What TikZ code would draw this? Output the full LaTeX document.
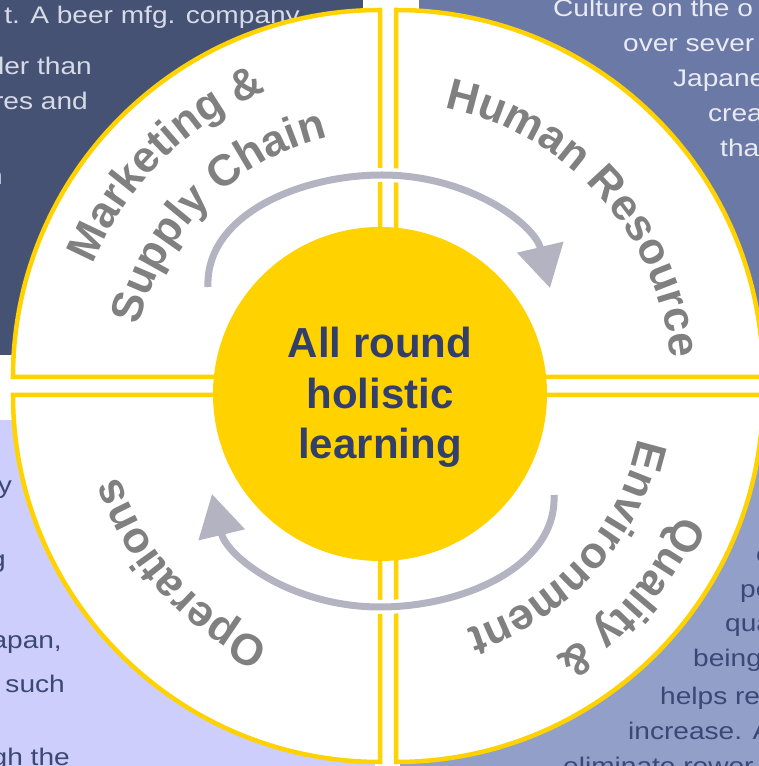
\documentclass[tikz,border=0pt]{standalone}
\usepackage{fontspec}
\setmainfont{Liberation Sans}
\newfontfamily\arialfont{Liberation Sans}
\newfontfamily\bgfont[FakeStretch=1.17]{Liberation Sans}
\usetikzlibrary{arrows.meta,decorations.text,positioning}
\definecolor{myslate}{RGB}{70,82,115}
\definecolor{myslatetext}{RGB}{215,219,232}
\definecolor{mysteel}{RGB}{107,121,166}
\definecolor{mysteeltext}{RGB}{233,234,242}
\definecolor{mylavender}{RGB}{205,206,251}
\definecolor{mygreyblue}{RGB}{146,159,200}
\definecolor{mynavytext}{RGB}{59,71,117}
\definecolor{myyellow}{RGB}{255,210,0}
\definecolor{mylabelgray}{RGB}{128,128,128}
\definecolor{myarrowgray}{RGB}{179,179,194}
\definecolor{myhubtext}{RGB}{51,63,107}
\newcommand{\ringradius}{367}
\newcommand{\labelfont}{\arialfont\bfseries\fontsize{44}{44}\selectfont}
\tikzset{
    bgline/.style={inner sep=0, font=\bgfont\fontsize{24}{35}\selectfont},
    lightline/.style={bgline, text=myslatetext},
    paleline/.style={bgline, text=mysteeltext},
    darkline/.style={bgline, text=mynavytext},
    quadrant/.style={draw=myyellow, line width=4.5pt, fill=white},
    hub/.style={circle, fill=myyellow, inner sep=0, minimum size=334pt},
    hubtext/.style={align=center, text=myhubtext, font=\arialfont\bfseries\fontsize{42}{50.5}\selectfont},
    cyclearrow/.style={draw=myarrowgray, line width=7pt, -{Triangle[width=46pt,length=42pt]},
        preaction={draw=white, line width=14pt, -}},
    quadlabel/.style={decorate, decoration={text along path, text align=center, text color=mylabelgray}}
}

\begin{document}
\begin{tikzpicture}[x=1pt, y=1pt]
    \path[use as bounding box] (0,0) rectangle (759,766);
    \clip (0,0) rectangle (759,766);
    \fill[myslate] (0,411) rectangle (363,766);
    \fill[mysteel] (419,406) rectangle (759,766);
    \fill[mylavender] (0,0) rectangle (375,346);
    \fill[mygreyblue] (400,0) rectangle (759,346);

    \foreach \txt/\xx/\yy [count=\i] in {t. A beer mfg. company/300/742, ler than/92/691, res and/88/656, n/3/581}
        \node[lightline, anchor=base east] (tl\i) at (\xx,\yy) {\txt};
    \foreach \txt/\xx/\yy [count=\i] in {Culture on the o/553/749, over sever/623/714, Japane/673/679, crea/708/644, tha/720/609}
        \node[paleline, anchor=base west] (tr\i) at (\xx,\yy) {\txt};
    \foreach \txt/\xx/\yy [count=\i] in {y/12/272, g/6/198, {apan,}/62/117, such/65/73, gh the/70/1}
        \node[darkline, anchor=base east] (bl\i) at (\xx,\yy) {\txt};
    \foreach \txt/\xx/\yy [count=\i] in {c/756/203, pe/740/168, qua/725/134, being/693/99, helps re/660/61, increase. A/628/26, eliminate rewor/563/-9}
        \node[darkline, anchor=base west] (br\i) at (\xx,\yy) {\txt};

    \draw[quadrant] (380,389) -- ++(-\ringradius,0) arc[start angle=180, end angle=90, radius=\ringradius] -- cycle;
    \draw[quadrant] (396,389) -- ++(0,\ringradius) arc[start angle=90, end angle=0, radius=\ringradius] -- cycle;
    \draw[quadrant] (380,371) -- ++(-\ringradius,0) arc[start angle=180, end angle=270, radius=\ringradius] -- cycle;
    \draw[quadrant] (396,371) -- ++(0,-\ringradius) arc[start angle=270, end angle=360, radius=\ringradius] -- cycle;

    \node[hub] (hub) at (380,372) {};
    \node[hubtext] (hubtxt) at ([yshift=-3.5pt]hub.center) {All round\\holistic\\learning};

    \foreach \rot in {0,180} {
        \begin{scope}[rotate around={\rot:(381,375)}]
            \draw[cyclearrow] (208,479) .. controls (205,551) and (300,591) .. (382,591)
                .. controls (470,591) and (535,541) .. (550,478);
        \end{scope}
    }

    \coordinate (ringc) at (388,380);
    \path[quadlabel, decoration={text={|\labelfont|Marketing {\&}}}] ([shift={(195:319)}]ringc) arc[start angle=195, end angle=75, radius=319];
    \path[quadlabel, decoration={text={|\labelfont|Supply Chain}}] ([shift={(195:256)}]ringc) arc[start angle=195, end angle=75, radius=256];
    \path[quadlabel, decoration={text={|\labelfont|Human Resource}}] ([shift={(102:284)}]ringc) arc[start angle=102, end angle=-18, radius=284];
    \path[quadlabel, decoration={text={|\labelfont|Operations}}] ([shift={(282:284)}]ringc) arc[start angle=282, end angle=162, radius=284];
    \path[quadlabel, decoration={text={|\labelfont|Quality {\&}}}] ([shift={(19:319)}]ringc) arc[start angle=19, end angle=-101, radius=319];
    \path[quadlabel, decoration={text={|\labelfont|Environment}}] ([shift={(18:256)}]ringc) arc[start angle=18, end angle=-102, radius=256];
\end{tikzpicture}
\end{document}
